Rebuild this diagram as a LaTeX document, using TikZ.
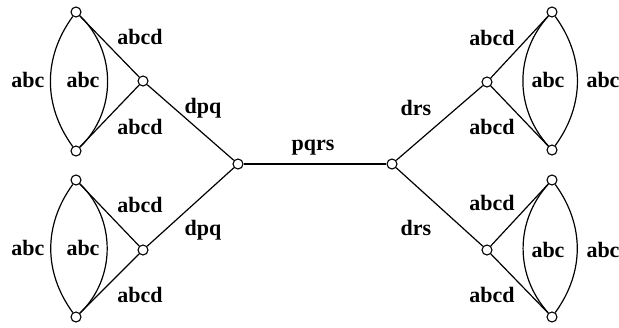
\documentclass[tikz,border=0pt]{standalone}
\usepackage{fontspec}
\setmainfont{Liberation Serif}
\newfontfamily\labfont{Liberation Serif Bold}
\begin{document}
\begin{tikzpicture}[x=1pt,y=-1pt,
  v/.style={circle,draw,fill=white,inner sep=0pt,minimum size=10pt,line width=1.1pt},
  e/.style={line width=1.2pt},
  lab/.style={font=\labfont\fontsize{22}{24}\selectfont,inner sep=0pt}]
\useasboundingbox (0,0) rectangle (619,327);
% vertices
\node[v] (L) at (238,164) {};
\node[v] (R) at (392,164) {};
\node[v] (ltm) at (143,81) {};
\node[v] (ltt) at (76,12) {};
\node[v] (ltb) at (76,151) {};
\node[v] (lbm) at (143,250) {};
\node[v] (lbt) at (76,180) {};
\node[v] (lbb) at (76,317) {};
\node[v] (rtm) at (487,82) {};
\node[v] (rtt) at (552,12) {};
\node[v] (rtb) at (552,150) {};
\node[v] (rbm) at (487,250) {};
\node[v] (rbt) at (552,180) {};
\node[v] (rbb) at (552,317) {};
% edges
\draw[e] (L) -- (R);
\draw[e] (L) -- (ltm);
\draw[e] (L) -- (lbm);
\draw[e] (R) -- (rtm);
\draw[e] (R) -- (rbm);
\draw[e] (ltt) -- (ltm); \draw[e] (ltb) -- (ltm);
\draw[e] (lbt) -- (lbm); \draw[e] (lbb) -- (lbm);
\draw[e] (rtt) -- (rtm); \draw[e] (rtb) -- (rtm);
\draw[e] (rbt) -- (rbm); \draw[e] (rbb) -- (rbm);
\draw[e] (ltt) to[bend right=36] (ltb);
\draw[e] (ltt) to[bend left=46] (ltb);
\draw[e] (lbt) to[bend right=36] (lbb);
\draw[e] (lbt) to[bend left=46] (lbb);
\draw[e] (rtt) to[bend left=36] (rtb);
\draw[e] (rtt) to[bend right=42] (rtb);
\draw[e] (rbt) to[bend left=36] (rbb);
\draw[e] (rbt) to[bend right=42] (rbb);
% labels
\node[lab] (pqrs) at (313,148) {pqrs};
\node[lab] (dpq1) at (203,108) {dpq};
\node[lab] (dpq2) at (203,230) {dpq};
\node[lab] (drs1) at (416,108) {drs};
\node[lab] (drs2) at (416,228) {drs};
\node[lab] (a1) at (140,37) {abcd};
\node[lab] (a2) at (140,127) {abcd};
\node[lab] (a3) at (140,205) {abcd};
\node[lab] (a4) at (140,295) {abcd};
\node[lab] (a5) at (492,38) {abcd};
\node[lab] (a6) at (492,127) {abcd};
\node[lab] (a7) at (492,203) {abcd};
\node[lab] (a8) at (492,295) {abcd};
\node[lab] (c1) at (28,80) {abc};
\node[lab] (c2) at (83,80) {abc};
\node[lab] (c3) at (28,248) {abc};
\node[lab] (c4) at (83,248) {abc};
\node[lab] (c5) at (548,80) {abc};
\node[lab] (c6) at (603,80) {abc};
\node[lab] (c7) at (548,250) {abc};
\node[lab] (c8) at (603,250) {abc};
\end{tikzpicture}
\end{document}
